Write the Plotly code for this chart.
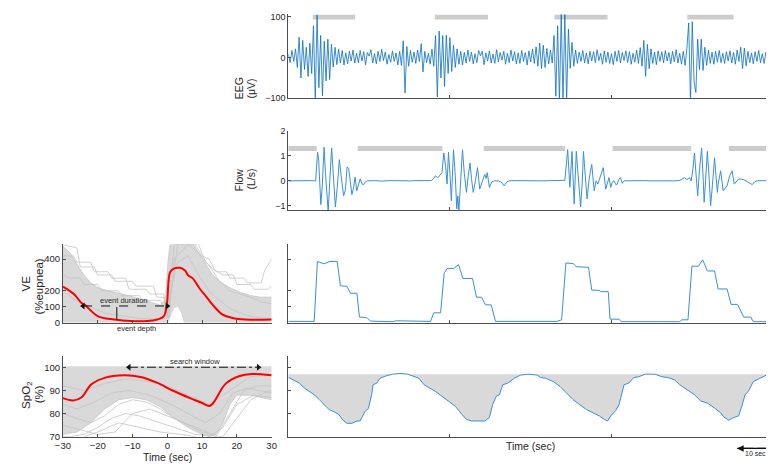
import plotly.graph_objects as go

# ====================== DATA: right-hand recording (time in s) ======================
EEG_SAMPLE_S = 0.5
eeg_uv = [
    8, -13, 17, -10, 21, -25, 50, -51, 42, -30, 25, -47, 35, -40, 78, -110, 105, -75, 54, -95,
    40, -58, 45, -55, 32, -24, 25, -18, 20, -14, 17, -19, 11, -16, 15, -9, 18, -14, 10, -13,
    17, -9, 14, -18, 12, 3, 19, -14, 9, -16, 15, -10, 20, -8, 13, -17, 7, -12, 16, -10,
    11, -19, 15, -20, 41, -88, 27, -22, 17, -12, 13, -15, 18, -10, 34, -36, 15, -13, 10, -17,
    20, -22, 54, -98, 65, -51, 54, -72, 55, -40, 49, -35, 30, -25, 21, -17, 15, -19, 12, -14,
    18, -10, 13, -16, 9, -13, 17, 4, 15, -18, 11, -9, 16, -14, 8, -15, 19, -11, 12, -7,
    15, -17, 10, -13, 18, -9, 14, -16, 11, -15, 17, -10, 12, -19, 16, -11, 21, -15, 26, -22,
    35, -28, 30, -25, 22, -16, 18, -14, 54, -96, 78, -110, 110, -110, 110, -110, 70, -27, 37, -22,
    18, -15, 13, -10, 17, -14, 11, -16, 15, -9, 14, -13, 19, -8, 10, -17, 16, -12, 13, -15,
    9, -18, 15, -10, 17, -14, 12, -8, 16, -13, 14, -17, 10, -12, 18, -15, 24, -22, 42, -47,
    32, -28, 21, -15, 13, -18, 16, -10, 14, -13, 17, -9, 12, -16, 15, -11, 19, -14, 10, -17,
    15, -20, 22, 85, -110, 88, -60, -87, 45, -30, 45, -32, 25, -20, 18, -15, 13, -17, 15, -12,
    17, -13, 10, -15, 14, -9, 16, -14, 12, -17, 18, -10, 25, -28, 23, -21, 15, -13, 11, -16,
    14, -10, 17, -13, 9, -15, 13, -8, 15, -11, 6,
]
eeg_arousal_on = [6.8, 40.8, 74.1, 111.1]
eeg_arousal_off = [18.6, 55.6, 88.9, 124.0]
EEG_BAR_LEVEL = 100

flow_samples = [
    (0, 0.0), (1.5, 0.01), (3, -0.01), (4.5, 0.0), (6, 0.01), (7.6, 0.0),
    (7.9, 0.5), (8.15, 1.15), (8.45, 0.8), (8.7, 0.1), (9.05, -0.95), (9.45, -0.2),
    (9.95, 1.35), (10.35, 0.3), (10.7, -0.7), (11.1, -1.25), (11.55, 0.05), (12.05, 1.32),
    (12.5, 0.3), (13.1, -1.05), (13.6, -0.3), (14.2, 0.85), (14.7, 0.2), (15.4, -0.6),
    (15.9, -0.35), (16.35, 0.55), (16.8, 0.5), (17.25, -0.1), (17.7, -0.55), (18.2, -0.25),
    (18.6, 0.15), (19.05, -0.4), (19.5, -0.2), (20.0, 0.08), (20.5, -0.12), (20.9, -0.16),
    (21.4, -0.05), (22.0, 0.0), (24, 0.01), (26, -0.01), (28, 0.01), (30, 0.0), (32, 0.02),
    (34, 0.0), (36, 0.01), (38, 0.0), (39.8, 0.01),
    (40.5, 0.1), (41.0, 0.2), (41.6, 0.12), (42.2, 0.25), (42.8, 0.33), (43.3, 1.12),
    (43.8, 0.6), (44.2, -0.13), (44.6, 1.15), (45.0, 0.3), (45.4, -0.8), (46.0, 1.25),
    (46.5, 0.2), (46.9, -1.12), (47.2, -0.6), (47.5, -1.2), (48.0, 0.2), (48.5, 1.25),
    (49.0, 0.3), (49.6, -0.46), (50.1, 0.2), (50.6, 0.72), (51.0, 0.1), (51.5, -0.46),
    (52.1, 0.0), (52.7, 0.53), (53.3, -0.33), (53.8, -0.1), (54.2, 0.13), (54.7, 0.26),
    (55.1, 0.1), (55.4, 0.33), (56.0, -0.26), (56.6, -0.05), (57.4, 0.0), (58.5, 0.0),
    (59.3, -0.05), (60.1, -0.2), (60.8, -0.05), (61.5, 0.0), (63, 0.01), (65, 0.0),
    (67, 0.01), (69, -0.01), (71, 0.0), (73, 0.01), (75, 0.0), (76.9, 0.01),
    (77.0, 0.02), (77.8, 1.25), (78.4, -0.26), (79.0, 1.18), (79.6, -0.92), (80.2, 1.18),
    (80.8, 0.1), (81.4, -1.05), (81.8, -0.2), (82.2, 1.18), (82.7, 0.2), (83.2, -0.72),
    (83.8, 0.1), (84.5, 0.66), (85.2, -0.4), (85.7, 0.0), (86.2, -0.13), (86.9, 0.2),
    (87.7, 0.53), (88.4, -0.33), (88.9, -0.1), (89.3, 0.13), (89.8, -0.26), (90.2, -0.05),
    (90.7, 0.0), (91.2, -0.15), (91.6, -0.13), (92.0, 0.05), (92.5, 0.13), (93.0, -0.1),
    (93.5, 0.0), (95, 0.01), (97, 0.0), (99, 0.01), (101, 0.0), (103, -0.01), (105, 0.01),
    (107, 0.0), (109, 0.01),
    (110.3, 0.13), (111.0, 0.05), (111.7, 0.13), (112.2, 0.0), (112.7, 0.5), (113.1, 1.12),
    (113.6, 0.3), (114.0, -0.6), (114.5, 0.4), (115.1, 1.32), (115.5, 0.2), (115.8, -0.86),
    (116.2, 0.0), (116.7, 1.18), (117.2, 0.1), (117.6, -1.0), (118.1, -0.2), (118.7, 0.92),
    (119.1, 0.2), (119.5, -0.46), (119.7, -0.13), (120.4, 0.4), (121.1, -0.4), (121.6, -0.3),
    (122.2, -0.2), (122.9, 0.2), (123.6, 0.4), (124.2, -0.13), (124.8, 0.0), (125.4, 0.08),
    (125.9, 0.07), (126.8, 0.05), (127.8, -0.03), (128.6, -0.1), (129.2, -0.15),
    (129.8, -0.05), (130.5, 0.0), (132, 0.01), (134, 0.0), (135, 0.0),
]
flow_bar_on = [0.0, 19.3, 54.4, 90.3, 122.7]
flow_bar_off = [7.9, 42.9, 77.1, 112.2, 135.0]
FLOW_BAR_LEVEL = 1.3

ve_t = [0, 7.2, 8.1, 9.9, 11.6, 13.6, 14.5, 16.3, 17.3, 19.1, 19.8, 21.8, 22.9, 29.1, 30.0,
        34.6, 35.5, 39.6, 40.5, 42.4, 43.4, 44.2, 46.0, 47.4, 48.6, 51.3, 52.4, 53.8, 54.9,
        56.5, 57.7, 74.8, 76.1, 77.3, 79.3, 80.2, 83.6, 84.5, 86.6, 87.1, 89.1, 89.6, 92.1,
        92.7, 109.0, 109.6, 111.3, 112.4, 114.2, 115.4, 116.7, 118.7, 119.7, 122.2, 123.3,
        125.1, 126.8, 128.8, 129.5, 135]
ve_pct = [8, 8, 385, 370, 385, 385, 232, 228, 185, 185, 35, 33, 10, 6, 12,
          12, 8, 8, 62, 62, 310, 340, 340, 365, 278, 278, 160, 160, 112,
          112, 8, 8, 18, 375, 372, 352, 348, 205, 203, 195, 195, 22, 22,
          6, 6, 18, 18, 355, 355, 395, 325, 325, 212, 212, 115,
          115, 35, 35, 6, 6]

spo2_t = [0, 1.7, 3.1, 4.5, 6.3, 7.2, 8.6, 10.0, 11.3, 12.7,
          14.0, 15.0, 16.3, 17.7, 19.1, 20.0, 21.4, 22.3, 23.2, 23.6,
          24.6, 25.5, 27.3, 29.1, 31.0, 33.2, 34.6, 36.4, 37.8, 39.2,
          41.0, 42.8, 44.6, 46.5, 48.3, 49.6, 51.0, 54.7, 56.0, 56.9,
          57.9, 58.8, 59.7, 61.1, 62.9, 64.7, 67.0, 69.3, 70.2, 71.6,
          73.8, 75.7, 77.5, 79.3, 81.1, 83.0, 84.8, 86.6, 88.0, 88.9,
          89.8, 91.2, 92.1, 93.5, 94.8, 96.2, 97.6, 99.4, 102.1, 104.0,
          105.8, 107.6, 109.0, 111.3, 113.1, 114.9, 116.7, 118.6, 120.4, 121.3,
          122.7, 124.0, 125.4, 126.3, 127.2, 128.1, 129.5, 131.3, 133.2, 135.0]
spo2_pct = [95.7, 94.3, 93.2, 91.0, 88.9, 88.2, 86.1, 83.9, 81.8, 80.8,
            79.7, 77.5, 75.8, 75.8, 76.8, 76.8, 81.1, 82.2, 88.2, 92.5,
            93.2, 95.3, 96.4, 97.1, 97.4, 97.1, 96.3, 95.3, 92.5, 91.3,
            89.6, 87.5, 85.4, 83.2, 79.7, 77.5, 76.8, 76.8, 78.3, 83.9,
            87.5, 88.2, 92.5, 93.2, 95.3, 96.7, 97.1, 96.7, 95.7, 95.3,
            93.9, 91.7, 88.9, 86.1, 83.9, 81.8, 80.4, 79.0, 77.5, 76.8,
            79.0, 81.4, 83.9, 92.5, 93.2, 95.6, 96.0, 97.1, 97.1, 96.0,
            95.6, 94.6, 92.5, 90.3, 88.2, 85.4, 84.6, 82.5, 80.4, 78.5,
            77.1, 78.3, 79.0, 83.2, 88.2, 89.6, 93.9, 95.3, 96.7, 97.1]
SPO2_BASELINE = 97.1

right_ticks = [0, 45, 90, 135]
scalebar_t = [125, 135]

# ====================== DATA: left-hand ensemble (time rel. to event, s) ======================
left_ticks = [-30, -20, -10, 0, 10, 20, 30]

ve_mean = [(-30, 226), (-26.5, 173), (-24.6, 122), (-23.7, 112), (-19.9, 40), (-15.2, 20),
           (-10.5, 10), (-5.8, 10), (-2.9, 20), (-1.0, 40), (-0.1, 122), (0.8, 317),
           (1.75, 338), (3.6, 345), (5.1, 328), (6.0, 297), (7.4, 277), (9.3, 215),
           (11.2, 164), (13.0, 113), (15.9, 51), (18.7, 30), (22.5, 20), (30, 20)]
ve_env_lower = [(-30, 0), (0.3, 0), (1, 40), (2, 90), (3, 100), (4, 60), (4.8, 0), (30, 0)]
ve_env_upper = [(-30, 480), (-28, 440), (-26, 370), (-24, 300), (-22, 250), (-20, 220),
                (-17, 200), (-14, 185), (-11, 170), (-8, 150), (-5, 130), (-2, 110),
                (-0.5, 150), (0.2, 380), (0.8, 492), (7.5, 492), (9, 440), (11, 370),
                (13, 300), (15, 260), (18, 220), (21, 190), (24, 170), (27, 160), (30, 160)]
ve_single_a = [(-30, 490), (-26, 470), (-25, 350), (-21, 350), (-20, 300), (-16, 300),
               (-15, 260), (-10, 260), (-9, 230), (-4, 230), (-3, 160), (-1, 160), (0, 60),
               (1, 300), (2, 492), (8, 492), (10, 420), (12, 400), (14, 320), (17, 320),
               (18, 280), (22, 280), (23, 250), (27, 250), (28, 330), (30, 400)]
ve_single_b = [(-30, 420), (-27, 420), (-26, 380), (-22, 380), (-21, 320), (-17, 320),
               (-16, 280), (-12, 280), (-11, 210), (-6, 210), (-5, 180), (-1, 180), (0, 40),
               (1.5, 250), (3, 492), (9, 492), (11, 380), (13, 340), (16, 300), (19, 300),
               (20, 240), (24, 240), (25, 210), (29, 210), (30, 230)]
ve_single_c = [(-30, 300), (-28, 280), (-25, 280), (-24, 240), (-20, 240), (-19, 200),
               (-14, 200), (-13, 170), (-8, 170), (-7, 140), (-2, 140), (-1, 90), (0.5, 30),
               (2, 400), (6, 492), (9, 440), (12, 360), (15, 260), (18, 200), (21, 180),
               (24, 160), (27, 130), (30, 120)]
ve_single_d = [(-30, 200), (-27, 150), (-24, 120), (-21, 90), (-18, 60), (-15, 50),
               (-12, 40), (-9, 30), (-6, 25), (-3, 20), (0, 30), (1, 200), (3, 380),
               (6, 420), (9, 300), (12, 200), (15, 140), (18, 90), (21, 60), (24, 40),
               (27, 30), (30, 25)]

spo2_mean = [(-30, 86.7), (-27, 85.7), (-24.6, 87.1), (-21.8, 92.7), (-18, 95.5),
             (-12.4, 96.6), (-7.7, 95.9), (-3, 93.4), (1.7, 89.9), (6.4, 86.8),
             (9.7, 84.8), (12.1, 83.3), (13.0, 84.2), (14.0, 86.4), (16.8, 93.0),
             (20.6, 96.2), (24.3, 97.2), (30, 96.6)]
spo2_env_lower = [(-30, 71), (-26, 72), (-22, 76), (-18, 82), (-14, 86), (-10, 87),
                  (-6, 86), (-2, 83), (2, 78), (6, 74), (10, 71), (12, 70), (14, 71),
                  (16, 76), (18, 84), (20, 88), (24, 88), (30, 86)]
spo2_env_upper = [(-30, 100.5), (30, 100.5)]
spo2_single_a = [(-30, 75), (-25, 73), (-20, 71), (-15, 72), (-10, 80), (-5, 82), (0, 79),
                 (5, 76), (10, 73), (14, 70), (18, 80), (22, 90), (26, 92), (30, 92)]
spo2_single_b = [(-30, 80), (-26, 78), (-22, 76), (-18, 79), (-14, 84), (-10, 86), (-6, 85),
                 (-2, 82), (2, 78), (6, 75), (10, 72), (13, 71), (16, 74), (20, 84),
                 (25, 88), (30, 87)]
spo2_single_c = [(-30, 70), (-28, 70), (-24, 71), (-20, 74), (-16, 78), (-12, 80), (-8, 79),
                 (-4, 77), (0, 75), (4, 73), (8, 71), (12, 70.5), (16, 70), (20, 78),
                 (24, 86), (28, 89), (30, 90)]
spo2_single_d = [(-30, 92), (-24, 90), (-18, 93), (-12, 95), (-6, 94), (0, 92), (6, 88),
                 (12, 84), (18, 90), (24, 96), (30, 97)]
spo2_single_e = [(-24, 70), (-20, 72), (-14, 76), (-8, 74), (-2, 72), (4, 71), (8, 70)]
spo2_single_f = [(-30, 84), (-26, 82), (-21, 85), (-16, 89), (-11, 90), (-5, 88), (1, 84),
                 (7, 79), (11, 76), (15, 80), (19, 89), (23, 91), (30, 89)]

event_duration_t = [-24.2, 0.0]
EVENT_DURATION_LEVEL = 105
event_depth_t = -14.5
event_depth_span = [98, 20]
search_window_t = [-11.0, 26.2]
SEARCH_WINDOW_LEVEL = 100.1

# ====================== STYLE ======================
W, H = 774, 464
FONT = "Liberation Sans, Arial, sans-serif"
AXC = "#4d4d4d"
TXT = "#262626"
EEG_BLUE = "#0a6fbf"
LINE_BLUE = "#3a8fd6"
BAR_GRAY = "#cccccc"
BUNDLE_FILL = "#d9d9d9"
BUNDLE_LINE = "#c4c4c4"


def px_x(p):
    return p / W


def px_y(p):
    return 1 - p / H


def unzip(pairs):
    return [p[0] for p in pairs], [p[1] for p in pairs]


def bars(on, off, level):
    xs, ys = [], []
    for a, b in zip(on, off):
        xs += [a, b, None]
        ys += [level, level, None]
    return xs, ys


fig = go.Figure()


def add(tr, n):
    tr.update(xaxis="x" if n == 1 else f"x{n}", yaxis="y" if n == 1 else f"y{n}",
              showlegend=False, hoverinfo="skip")
    fig.add_trace(tr)


# --- EEG (axis 1)
bx, by = bars(eeg_arousal_on, eeg_arousal_off, EEG_BAR_LEVEL)
add(go.Scatter(x=bx, y=by, mode="lines", line=dict(color=BAR_GRAY, width=5)), 1)
eeg_time = [i * EEG_SAMPLE_S for i in range(len(eeg_uv))]
add(go.Scatter(x=eeg_time, y=eeg_uv, mode="lines", line=dict(color=EEG_BLUE, width=0.8)), 1)

# --- Flow (axis 2)
bx, by = bars(flow_bar_on, flow_bar_off, FLOW_BAR_LEVEL)
add(go.Scatter(x=bx, y=by, mode="lines", line=dict(color=BAR_GRAY, width=5)), 2)
ft, fv = unzip(flow_samples)
add(go.Scatter(x=ft, y=fv, mode="lines", line=dict(color=LINE_BLUE, width=1)), 2)

# --- VE (axis 3)
add(go.Scatter(x=ve_t, y=ve_pct, mode="lines", line=dict(color=LINE_BLUE, width=1)), 3)

# --- SpO2 (axis 4)
add(go.Scatter(x=[spo2_t[0], spo2_t[-1]], y=[SPO2_BASELINE, SPO2_BASELINE], mode="lines",
               line=dict(width=0, color=BUNDLE_FILL)), 4)
add(go.Scatter(x=spo2_t, y=spo2_pct, mode="lines", fill="tonexty", fillcolor=BUNDLE_FILL,
               line=dict(color=LINE_BLUE, width=1)), 4)

# --- VE ensemble (axis 5)
lx, ly = unzip(ve_env_lower)
ux, uy = unzip(ve_env_upper)
add(go.Scatter(x=lx, y=ly, mode="lines", line=dict(width=0, color=BUNDLE_FILL)), 5)
add(go.Scatter(x=ux, y=uy, mode="lines", fill="tonexty", fillcolor=BUNDLE_FILL,
               line=dict(width=0.8, color=BUNDLE_LINE)), 5)
for single in (ve_single_a, ve_single_b, ve_single_c, ve_single_d):
    sx, sy = unzip(single)
    add(go.Scatter(x=sx, y=sy, mode="lines", line=dict(width=0.8, color=BUNDLE_LINE)), 5)
mx, my = unzip(ve_mean)
add(go.Scatter(x=mx, y=my, mode="lines", line=dict(color="#ff0000", width=2, shape="spline")), 5)
add(go.Scatter(x=event_duration_t, y=[EVENT_DURATION_LEVEL] * 2, mode="lines+markers",
               line=dict(color="#111111", width=1, dash="dash"),
               marker=dict(symbol=["triangle-left", "triangle-right"], size=6, color="#111111")), 5)
add(go.Scatter(x=[event_depth_t, event_depth_t], y=event_depth_span, mode="lines",
               line=dict(color="#111111", width=1)), 5)

# --- SpO2 ensemble (axis 6)
lx, ly = unzip(spo2_env_lower)
ux, uy = unzip(spo2_env_upper)
add(go.Scatter(x=lx, y=ly, mode="lines", line=dict(width=0.8, color=BUNDLE_LINE)), 6)
add(go.Scatter(x=ux, y=uy, mode="lines", fill="tonexty", fillcolor=BUNDLE_FILL,
               line=dict(width=0, color=BUNDLE_LINE)), 6)
for single in (spo2_single_a, spo2_single_b, spo2_single_c, spo2_single_d,
               spo2_single_e, spo2_single_f):
    sx, sy = unzip(single)
    add(go.Scatter(x=sx, y=sy, mode="lines", line=dict(width=0.8, color=BUNDLE_LINE)), 6)
mx, my = unzip(spo2_mean)
add(go.Scatter(x=mx, y=my, mode="lines", line=dict(color="#ff0000", width=2, shape="spline")), 6)
add(go.Scatter(x=search_window_t, y=[SEARCH_WINDOW_LEVEL] * 2, mode="lines+markers",
               line=dict(color="#111111", width=1, dash="dashdot"),
               marker=dict(symbol=["triangle-left", "triangle-right"], size=6, color="#111111")), 6)

# --- 10 s scale bar: hidden strip (axis 7) with the right panels' time scale
add(go.Scatter(x=scalebar_t, y=[0.5, 0.5], mode="lines", line=dict(color="#111111", width=1.3)), 7)


def axis(domain, rng, tickvals, labels, anchor, size=9):
    return dict(domain=domain, range=rng, tickvals=tickvals, showticklabels=labels,
                anchor=anchor, showgrid=False, zeroline=False, showline=True,
                linecolor=AXC, linewidth=1, ticks="inside", ticklen=3, tickcolor=AXC,
                tickwidth=1, tickfont=dict(family=FONT, size=size, color=TXT),
                fixedrange=True)


RX = [px_x(277), px_x(770)]
LX = [px_x(47.7), px_x(260)]
D_EEG = [px_y(86.7), px_y(1.5)]
D_FLOW = [px_y(201.7), px_y(120.5)]
D_VE = [px_y(316.5), px_y(236.5)]
D_SPO2 = [px_y(433), px_y(350.5)]
D_SCALE = [px_y(453), px_y(437)]
SCALE_RANGE = [0, 135.8]
RX_SCALE = [px_x(277), px_x(277 + 493 * SCALE_RANGE[1] / 135)]

layout = dict(
    width=W, height=H, autosize=False,
    margin=dict(l=0, r=0, t=0, b=0),
    paper_bgcolor="white", plot_bgcolor="white",
    font=dict(family=FONT, color=TXT),
    xaxis=axis(RX, [0, 135], right_ticks, False, "y"),
    yaxis=axis(D_EEG, [-100, 106], [-100, 0, 100], True, "x"),
    xaxis2=axis(RX, [0, 135], right_ticks, False, "y2"),
    yaxis2=axis(D_FLOW, [-1.18, 2.0], [-1, 0, 1, 2], True, "x2"),
    xaxis3=axis(RX, [0, 135], right_ticks, False, "y3"),
    yaxis3=axis(D_VE, [0, 492], [0, 100, 200, 400], False, "x3"),
    xaxis4=axis(RX, [0, 135], right_ticks, False, "y4"),
    yaxis4=axis(D_SPO2, [70, 105], [70, 80, 90, 100], False, "x4"),
    xaxis5=axis(LX, [-30, 30], left_ticks, False, "y5"),
    yaxis5=axis(D_VE, [0, 492], [0, 100, 200, 400], True, "x5", 9.5),
    xaxis6=axis(LX, [-30, 30], left_ticks, True, "y6", 9.5),
    yaxis6=axis(D_SPO2, [70, 105], [70, 80, 90, 100], True, "x6", 9.5),
    xaxis7=dict(domain=RX_SCALE, range=SCALE_RANGE, anchor="y7", visible=False,
                fixedrange=True),
    yaxis7=dict(domain=D_SCALE, range=[0, 1], anchor="x7", visible=False, fixedrange=True),
)
fig.update_layout(**layout)

# arrow heads of the scale bar (one annotation per end, drawn from the bar centre)
mid = sum(scalebar_t) / 2
for end in scalebar_t:
    fig.add_annotation(x=end, y=0.5, xref="x7", yref="y7",
                       ax=mid, ay=0, axref="x7", ayref="pixel",
                       text="", showarrow=True, arrowhead=2, standoff=0,
                       arrowsize=1, arrowwidth=1.3, arrowcolor="#111111")


def note(text, x, y, size, angle=0, xref="paper", yref="paper", **kw):
    fig.add_annotation(text=text, x=x, y=y, xref=xref, yref=yref, showarrow=False,
                       textangle=angle, xanchor="center", yanchor="middle",
                       font=dict(family=FONT, size=size, color=TXT), **kw)


# y-axis titles (two lines each)
note("EEG", px_x(226.7), px_y(77), 10.5, -90)
note("(\u03bcV)", px_x(239.3), px_y(77), 10.5, -90)
note("Flow", px_x(226.7), px_y(170), 10.5, -90)
note("(L/s)", px_x(239.3), px_y(170), 10.5, -90)
note("VE", px_x(10.5), px_y(276), 11.5, -90)
note("(%eupnea)", px_x(23), px_y(280), 11.5, -90)
note("SpO<sub>2</sub>", px_x(10.5), px_y(390), 11.5, -90)
note("(%)", px_x(23), px_y(390), 11.5, -90)

# x-axis titles
note("Time (sec)", px_x(523.5), px_y(443), 10.5)
note("Time (sec)", px_x(154), px_y(454), 10.5)

# in-panel labels
note("event duration", -12.4, 140, 7.5, xref="x5", yref="y5")
note("event depth", -8.7, px_y(322), 7.5, xref="x5", yref="paper")
note("search window", 7.9, 102.7, 7.5, xref="x6", yref="y6")
note("10 sec", mid, px_y(450), 7, xref="x4", yref="paper")

fig.write_html("out.html")
